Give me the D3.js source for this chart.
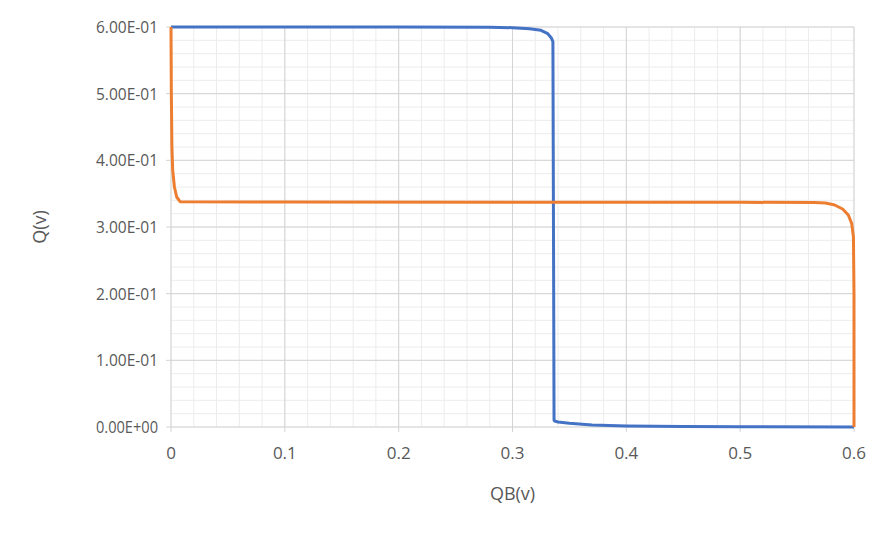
<!DOCTYPE html>
<html>
<head>
<meta charset="utf-8">
<script src="https://cdn.jsdelivr.net/npm/d3@7"></script>
<style>
  body { margin: 0; background: #fff; }
  text { font-family: "Open Sans", "Liberation Sans", sans-serif; fill: #595959; }
</style>
</head>
<body>
<svg id="chart" width="892" height="535"></svg>
<script>
// blue curve: Q vs QB
const blueX = [0, 0.1, 0.2, 0.28, 0.30, 0.315, 0.325, 0.331, 0.334, 0.3355, 0.336, 0.3365, 0.337, 0.34, 0.35, 0.37, 0.4, 0.45, 0.5, 0.6];
const blueY = [0.6, 0.6, 0.6, 0.5995, 0.599, 0.5975, 0.595, 0.59, 0.584, 0.578, 0.3, 0.01, 0.009, 0.0075, 0.0055, 0.003, 0.0015, 0.0007, 0.0003, 0];
// orange curve
const orangeX = [0, 0.0003, 0.0008, 0.0015, 0.003, 0.005, 0.008, 0.1, 0.3, 0.5, 0.565, 0.575, 0.583, 0.59, 0.595, 0.598, 0.5995, 0.6, 0.6];
const orangeY = [0.6, 0.5, 0.42, 0.385, 0.36, 0.345, 0.338, 0.3375, 0.3372, 0.337, 0.3368, 0.336, 0.333, 0.327, 0.318, 0.305, 0.285, 0.2, 0];
const xTicks = [0, 0.1, 0.2, 0.3, 0.4, 0.5, 0.6];
const yTicks = [0, 0.1, 0.2, 0.3, 0.4, 0.5, 0.6];

const svg = d3.select("#chart");
const x = d3.scaleLinear().domain([0, 0.6]).range([171, 854]);
const y = d3.scaleLinear().domain([0, 0.6]).range([427, 27]);

// minor grid
const minor = d3.range(0, 0.6001, 0.02);
svg.append("g").selectAll("line").data(minor).join("line")
  .attr("x1", d => x(d)).attr("x2", d => x(d)).attr("y1", y(0)).attr("y2", y(0.6))
  .attr("stroke", "#ececec").attr("stroke-width", 1);
svg.append("g").selectAll("line").data(minor).join("line")
  .attr("y1", d => y(d)).attr("y2", d => y(d)).attr("x1", x(0)).attr("x2", x(0.6))
  .attr("stroke", "#ececec").attr("stroke-width", 1);

// major grid
svg.append("g").selectAll("line").data(xTicks).join("line")
  .attr("x1", d => x(d)).attr("x2", d => x(d)).attr("y1", y(0)).attr("y2", y(0.6))
  .attr("stroke", "#d4d4d4");
svg.append("g").selectAll("line").data(yTicks).join("line")
  .attr("y1", d => y(d)).attr("y2", d => y(d)).attr("x1", x(0) - 5).attr("x2", x(0.6))
  .attr("stroke", "#d4d4d4");
// x tick marks
svg.append("g").selectAll("line").data(xTicks).join("line")
  .attr("x1", d => x(d)).attr("x2", d => x(d)).attr("y1", y(0)).attr("y2", y(0) + 5)
  .attr("stroke", "#d4d4d4");

// tick labels
svg.append("g").selectAll("text").data(xTicks).join("text")
  .attr("x", d => x(d)).attr("y", 459).attr("text-anchor", "middle")
  .attr("font-size", 17).text(d => d3.format(".1~f")(d));
svg.append("g").selectAll("text").data(yTicks).join("text")
  .attr("x", 158).attr("y", d => y(d) + 6).attr("text-anchor", "end")
  .attr("font-size", 17).attr("textLength", 62).attr("lengthAdjust", "spacingAndGlyphs")
  .text(d => d.toExponential(2).toUpperCase().replace(/E([+-])(\d)$/, "E$10$2"));

// axis titles
svg.append("text").attr("x", x(0.3)).attr("y", 500).attr("text-anchor", "middle")
  .attr("font-size", 18).text("QB(v)");
svg.append("text").attr("transform", "translate(46," + y(0.3) + ") rotate(-90)")
  .attr("text-anchor", "middle").attr("font-size", 18).text("Q(v)");

const line = d3.line().x(d => x(d[0])).y(d => y(d[1]));
svg.append("path").datum(d3.zip(blueX, blueY)).attr("d", line)
  .attr("fill", "none").attr("stroke", "#4472c4").attr("stroke-width", 3).attr("stroke-linejoin", "round");
svg.append("path").datum(d3.zip(orangeX, orangeY)).attr("d", line)
  .attr("fill", "none").attr("stroke", "#ed7d31").attr("stroke-width", 3).attr("stroke-linejoin", "round");
</script>
</body>
</html>
